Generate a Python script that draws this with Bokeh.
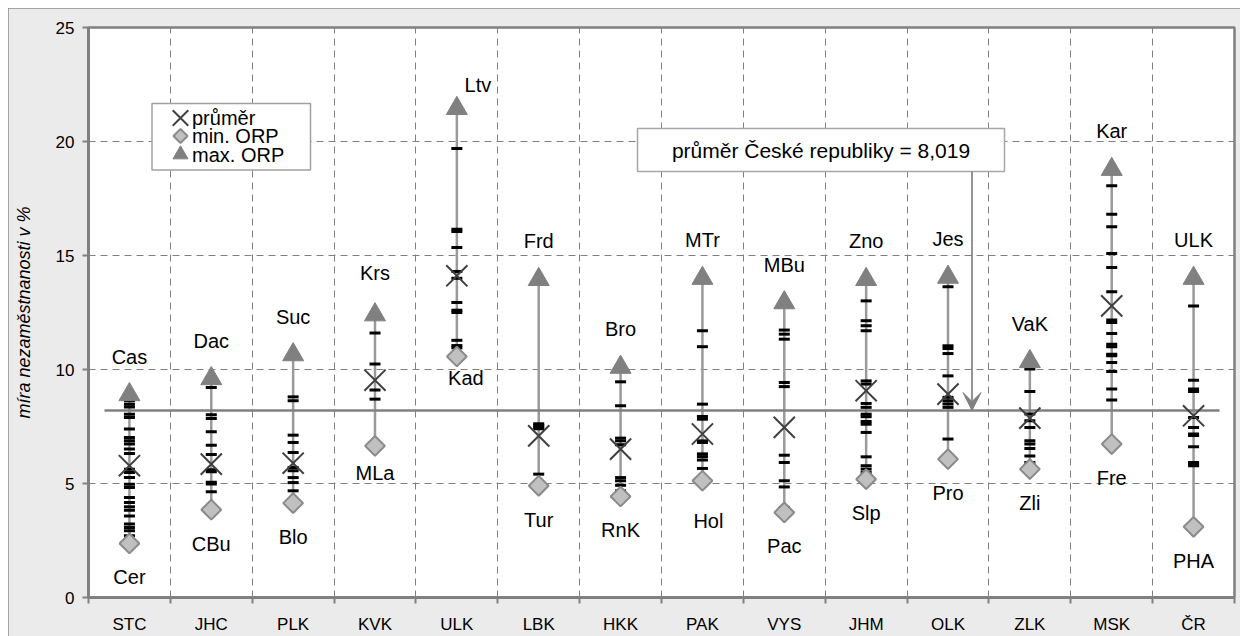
import math
from bokeh.plotting import figure
from bokeh.models import (Range1d, FixedTicker, CustomJSTickFormatter, ColumnDataSource,
                          BoxAnnotation, Label, Arrow, VeeHead)
from bokeh.core.properties import value
from bokeh.embed import file_html
from bokeh.resources import INLINE

# ---------------- data ----------------
regions = ["STC", "JHC", "PLK", "KVK", "ULK", "LBK", "HKK", "PAK", "VYS", "JHM", "OLK", "ZLK", "MSK", "ČR"]
max_labels = ["Cas", "Dac", "Suc", "Krs", "Ltv", "Frd", "Bro", "MTr", "MBu", "Zno", "Jes", "VaK", "Kar", "ULK"]
min_labels = ["Cer", "CBu", "Blo", "MLa", "Kad", "Tur", "RnK", "Hol", "Pac", "Slp", "Pro", "Zli", "Fre", "PHA"]
means = [5.78, 5.85, 5.89, 9.53, 14.11, 7.09, 6.51, 7.17, 7.46, 9.07, 8.92, 7.87, 12.79, 7.97]

orp_stc = [8.90, 8.63, 8.48, 8.36, 8.04, 7.89, 7.39, 7.02, 6.87, 6.73, 6.51, 6.32, 5.62, 5.48, 5.26,
           4.97, 4.82, 4.39, 4.17, 3.98, 3.83, 3.58, 3.22, 3.07, 2.93, 2.71, 2.37]
orp_jhc = [9.60, 9.21, 8.02, 7.85, 7.27, 6.68, 6.27, 5.60, 5.52, 5.05, 4.98, 4.64, 3.85]
orp_plk = [10.65, 8.80, 8.63, 7.12, 6.80, 6.36, 5.70, 5.56, 5.26, 5.04, 4.68, 4.27, 4.20, 4.14]
orp_kvk = [12.40, 11.60, 10.24, 9.10, 8.70, 6.77, 6.65]
orp_ulk = [21.45, 19.69, 16.15, 16.05, 15.35, 14.30, 14.00, 12.94, 12.60, 12.50, 11.28, 11.05, 10.95, 10.57]
orp_lbk = [13.95, 7.62, 7.55, 7.47, 7.40, 5.41, 5.00, 4.90]
orp_hkk = [10.10, 9.46, 8.41, 6.99, 6.87, 6.70, 5.26, 5.12, 4.92, 4.68, 4.43]
orp_pak = [14.00, 11.70, 11.00, 8.48, 7.94, 7.82, 6.87, 6.80, 6.30, 6.18, 6.03, 5.66, 5.19, 5.12]
orp_vys = [12.93, 11.73, 11.55, 11.33, 9.43, 9.25, 6.24, 5.92, 5.12, 4.85, 3.95, 3.73]
orp_jhm = [13.95, 13.01, 12.14, 11.92, 11.70, 9.50, 9.36, 8.51, 8.34, 8.04, 7.93, 7.72, 7.60, 7.24,
           6.17, 5.78, 5.63, 5.48, 5.19]
orp_olk = [14.05, 13.63, 11.04, 10.92, 10.70, 9.72, 8.78, 8.63, 8.49, 8.34, 6.95, 6.07]
orp_zlk = [10.35, 10.16, 10.02, 9.04, 8.05, 7.75, 7.46, 6.87, 6.73, 6.54, 6.21, 5.92, 5.63]
orp_msk = [18.78, 18.06, 16.81, 16.26, 15.09, 14.47, 13.41, 12.17, 12.06, 11.58, 11.11, 11.00, 10.67,
           10.60, 10.31, 9.91, 9.14, 8.66, 6.73]
orp_cr = [14.00, 12.79, 9.53, 9.14, 9.04, 7.89, 7.46, 7.17, 7.10, 6.61, 5.92, 5.85, 5.78, 3.10]
orp_values = [orp_stc, orp_jhc, orp_plk, orp_kvk, orp_ulk, orp_lbk, orp_hkk, orp_pak, orp_vys,
              orp_jhm, orp_olk, orp_zlk, orp_msk, orp_cr]

cr_line = 8.2
cr_text = "průměr České republiky = 8,019"
legend_labels = ["průměr", "min. ORP", "max. ORP"]

# ---------------- layout / style ----------------
FONT = "Liberation Sans"
GRAY = "#808080"
n = len(regions)
Y_MAX = 25
FRAME_W, FRAME_H = 1146, 570
xs = [i + 0.5 for i in range(n)]
mins = [min(v) for v in orp_values]
maxs = [max(v) for v in orp_values]


def px_x(px):  # screen px from frame left -> data x
    return px * n / FRAME_W


def px_y(px):  # screen px from frame top -> data y
    return Y_MAX - px * Y_MAX / FRAME_H


# label nudges (screen px) for labels placed differently
nudge = {"Krs": (0, -4), "Ltv": (21, 15), "MLa": (0, -7), "Kad": (9, -13), "Hol": (6, 6)}

p = figure(width=1232, height=628, x_range=Range1d(0, n), y_range=Range1d(0, Y_MAX),
           output_backend="svg", toolbar_location=None,
           min_border_left=80, min_border_right=6, min_border_top=19, min_border_bottom=39)
p.styles = {"margin-left": "8px", "margin-top": "8px",
            "outline": "2px solid #8c8c8c", "outline-offset": "-2px"}
p.border_fill_color = "#ebebeb"
p.background_fill_color = "white"
p.outline_line_color = GRAY
p.outline_line_width = 2.5

# axes
p.xaxis.ticker = FixedTicker(ticks=xs, minor_ticks=list(range(n + 1)))
p.xaxis.formatter = CustomJSTickFormatter(args=dict(names=regions),
    code="const i = Math.floor(tick); return (i >= 0 && i < names.length) ? names[i] : '';")
p.xaxis.major_tick_out = 0
p.xaxis.major_tick_in = 0
p.xaxis.minor_tick_out = 6
p.xaxis.minor_tick_in = 0
p.xaxis.minor_tick_line_color = GRAY
p.xaxis.minor_tick_line_width = 2
p.xaxis.major_label_standoff = 11
p.yaxis.ticker = FixedTicker(ticks=[0, 5, 10, 15, 20, 25])
p.yaxis.major_tick_out = 6
p.yaxis.major_tick_in = 0
p.yaxis.minor_tick_out = 0
p.yaxis.minor_tick_in = 0
p.yaxis.major_tick_line_color = GRAY
p.yaxis.major_tick_line_width = 2
p.yaxis.major_label_standoff = 8
p.yaxis.axis_label = "míra nezaměstnanosti v %"
p.yaxis.axis_label_text_font = FONT
p.yaxis.axis_label_text_font_style = "italic"
p.yaxis.axis_label_text_font_size = "18px"
p.yaxis.axis_label_text_color = "black"
p.yaxis.axis_label_standoff = 19
for ax in (p.xaxis, p.yaxis):
    ax.axis_line_color = GRAY
    ax.axis_line_width = 3
    ax.major_label_text_font = FONT
    ax.major_label_text_font_size = "17px"
    ax.major_label_text_color = "black"

# grids
p.xgrid.ticker = FixedTicker(ticks=list(range(1, n)))
p.ygrid.ticker = FixedTicker(ticks=[5, 10, 15, 20])
for g in (p.xgrid, p.ygrid):
    g.grid_line_color = GRAY
    g.grid_line_width = 1
    g.grid_line_dash = "7 5"

# range lines
rng = ColumnDataSource(dict(x=xs, lo=mins, hi=maxs, mean=means))
p.segment(x0="x", y0="lo", x1="x", y1="hi", source=rng, line_color="#9a9a9a", line_width=2.5)

# Czech republic average line
p.segment(x0=[px_x(16)], y0=[cr_line], x1=[px_x(FRAME_W - 15)], y1=[cr_line],
          line_color=GRAY, line_width=2.5)

# ORP dashes
dx, dy = [], []
for x, vals in zip(xs, orp_values):
    for v in vals:
        dx.append(x)
        dy.append(v)
p.scatter(x=dx, y=dy, marker="dash", size=11, line_color="black", line_width=3)

# means, min, max markers
p.scatter(x="x", y="mean", source=rng, marker="x", size=30, line_color="#404040", line_width=2)
p.scatter(x="x", y="lo", source=rng, marker="square", angle=math.pi / 4, size=14,
          fill_color="#c0c0c0", line_color="#8a8a8a", line_width=2)
p.scatter(x="x", y="hi", source=rng, marker="triangle", size=21,
          fill_color=GRAY, line_color=GRAY, line_width=1)

# labels
lx, ly, lt, lxo, lyo = [], [], [], [], []
for x, v, t in zip(xs, maxs, max_labels):
    ox, oy = nudge.get(t, (0, 0))
    lx.append(x); ly.append(v); lt.append(t); lxo.append(ox); lyo.append(-38 + oy)
for x, v, t in zip(xs, mins, min_labels):
    ox, oy = nudge.get(t, (0, 0))
    lx.append(x); ly.append(v); lt.append(t); lxo.append(ox); lyo.append(34 + oy)
lab = ColumnDataSource(dict(x=lx, y=ly, text=lt, xo=lxo, yo=lyo))
p.text(x="x", y="y", text="text", x_offset="xo", y_offset="yo", source=lab,
       text_align="center", text_baseline="middle", text_font=value(FONT),
       text_font_size="20px", text_color="black")

# annotation box + arrow
box = BoxAnnotation(left=px_x(549), right=px_x(916), top=px_y(101), bottom=px_y(144),
                    fill_color="white", fill_alpha=1.0, line_color="#a6a6a6", line_width=1.5,
                    line_alpha=1.0)
p.add_layout(box)
p.add_layout(Label(x=px_x(732.5), y=px_y(122.5), text=cr_text, text_align="center",
                   text_baseline="middle", text_font=FONT, text_font_size="21px",
                   text_color="black"))
p.add_layout(Arrow(end=VeeHead(size=18, fill_color=GRAY, line_color=GRAY),
                   x_start=px_x(883.5), y_start=px_y(144), x_end=px_x(883.5), y_end=cr_line,
                   line_color="#707070", line_width=1.5))

# legend (drawn as a framed key in the upper-left of the plot area)
leg_box = BoxAnnotation(left=px_x(63.5), right=px_x(222), top=px_y(76), bottom=px_y(142.5),
                        fill_color="white", fill_alpha=1.0, line_color="#a0a0a0",
                        line_width=1.5, line_alpha=1.0, level="underlay")
p.add_layout(leg_box)
row_px = [90.5, 108.5, 127]
mk_x = px_x(92)
p.scatter(x=[mk_x], y=[px_y(row_px[0])], marker="x", size=22, line_color="#404040", line_width=2)
p.scatter(x=[mk_x], y=[px_y(row_px[1])], marker="square", angle=math.pi / 4, size=10,
          fill_color="#c0c0c0", line_color="#8a8a8a", line_width=2)
p.scatter(x=[mk_x], y=[px_y(row_px[2])], marker="triangle", size=15, fill_color=GRAY,
          line_color=GRAY)
for lbl, r in zip(legend_labels, row_px):
    p.add_layout(Label(x=px_x(103.5), y=px_y(r), text=lbl, text_align="left",
                       text_baseline="middle", text_font=FONT, text_font_size="20px",
                       text_color="black"))

open("out.html", "w").write(file_html(p, INLINE))
